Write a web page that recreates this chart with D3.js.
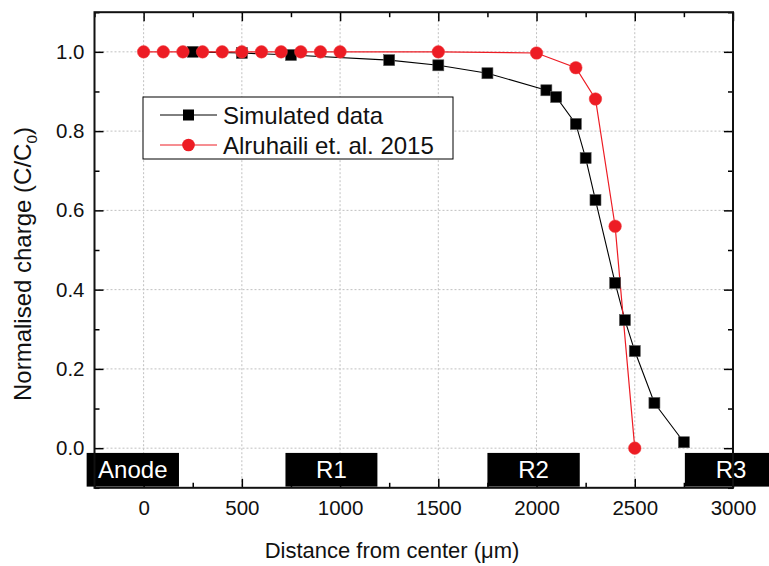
<!DOCTYPE html>
<html>
<head>
<meta charset="utf-8">
<script src="https://cdn.jsdelivr.net/npm/d3@7/dist/d3.min.js"></script>
<style>
  html, body { margin: 0; padding: 0; background: #fff; }
  svg { display: block; font-family: "Liberation Sans", Arial, sans-serif; }
</style>
</head>
<body>
<svg id="chart" width="769" height="566"></svg>
<script>
// ---- data ----
const simX = [250, 500, 750, 1250, 1500, 1750, 2050, 2100, 2200, 2250, 2300, 2400, 2450, 2500, 2600, 2750];
const simY = [1.0, 0.997, 0.992, 0.979, 0.966, 0.946, 0.903, 0.886, 0.818, 0.732, 0.626, 0.417, 0.323, 0.245, 0.114, 0.015];
const refX = [0, 100, 200, 300, 400, 500, 600, 700, 800, 900, 1000, 1500, 2000, 2200, 2300, 2400, 2500];
const refY = [1.0, 1.0, 1.0, 1.0, 1.0, 1.0, 1.0, 1.0, 1.0, 1.0, 1.0, 1.0, 0.997, 0.96, 0.881, 0.56, 0.0];
const seriesNames = ["Simulated data", "Alruhaili et. al. 2015"];
const regionNames = ["Anode", "R1", "R2", "R3"];
const regionStart = [-290, 722, 1750, 2755];
const regionEnd = [180, 1190, 2220, 3225];
const xTicks = [0, 500, 1000, 1500, 2000, 2500, 3000];
const yTicks = [0.0, 0.2, 0.4, 0.6, 0.8, 1.0];

// ---- layout ----
const svg = d3.select("#chart");
const L = 94.5, R = 733, T = 12.2, B = 487.8;
const x = d3.scaleLinear().domain([-250, 3000]).range([L, R]);
const y = d3.scaleLinear().domain([-0.1, 1.1]).range([B, T]);
const red = "#ed1c24";
const font = "Liberation Sans, Arial, sans-serif";

// grid
const grid = svg.append("g");
grid.selectAll("line.vx").data(xTicks).join("line")
  .attr("x1", d => x(d)).attr("x2", d => x(d)).attr("y1", T).attr("y2", B)
  .attr("stroke", "#c0c0c0").attr("stroke-width", 1).attr("stroke-dasharray", "2,2");
grid.selectAll("line.hy").data(yTicks).join("line")
  .attr("x1", L).attr("x2", R).attr("y1", d => y(d)).attr("y2", d => y(d))
  .attr("stroke", "#c0c0c0").attr("stroke-width", 1).attr("stroke-dasharray", "2,2");

// axes with inward ticks
const xMinor = d3.range(-250, 3001, 250).filter(v => !xTicks.includes(v));
const yMinor = d3.range(-0.1, 1.11, 0.1).map(v => +v.toFixed(2)).filter(v => !yTicks.some(t => Math.abs(t - v) < 1e-6));

function axisGroup(axisFn, scale, ticks, size, transform) {
  const g = svg.append("g").attr("transform", transform)
    .call(axisFn(scale).tickValues(ticks).tickSize(size).tickFormat(""));
  g.select(".domain").remove();
  g.selectAll(".tick line").attr("stroke", "#000").attr("stroke-width", 1.5);
  return g;
}
axisGroup(d3.axisTop, x, xTicks, 9, `translate(0,${B})`);
axisGroup(d3.axisTop, x, xMinor, 5, `translate(0,${B})`);
axisGroup(d3.axisBottom, x, xTicks, 9, `translate(0,${T})`);
axisGroup(d3.axisBottom, x, xMinor, 5, `translate(0,${T})`);
axisGroup(d3.axisRight, y, yTicks, 9, `translate(${L},0)`);
axisGroup(d3.axisRight, y, yMinor, 5, `translate(${L},0)`);
axisGroup(d3.axisLeft, y, yTicks, 9, `translate(${R},0)`);
axisGroup(d3.axisLeft, y, yMinor, 5, `translate(${R},0)`);

// tick labels
const xl = svg.append("g").attr("transform", `translate(0,${B})`)
  .call(d3.axisBottom(x).tickValues(xTicks).tickSize(0).tickPadding(13).tickFormat(d3.format("d")));
xl.select(".domain").remove();
xl.selectAll("text").attr("font-size", 20.5).attr("fill", "#111").attr("font-family", font);
const yl = svg.append("g").attr("transform", `translate(${L},0)`)
  .call(d3.axisLeft(y).tickValues(yTicks).tickSize(0).tickPadding(10).tickFormat(d3.format(".1f")));
yl.select(".domain").remove();
yl.selectAll("text").attr("font-size", 20.5).attr("fill", "#111").attr("font-family", font);

// lines
const lineGen = d3.line().x(d => x(d[0])).y(d => y(d[1]));
const simData = simX.map((v, i) => [v, simY[i]]);
const refData = refX.map((v, i) => [v, refY[i]]);
svg.append("path").datum(simData).attr("d", lineGen).attr("fill", "none").attr("stroke", "#000").attr("stroke-width", 1.1);
svg.append("path").datum(refData).attr("d", lineGen).attr("fill", "none").attr("stroke", red).attr("stroke-width", 1.2);

// markers
const sq = 11;
svg.append("g").selectAll("rect").data(simData).join("rect")
  .attr("x", d => x(d[0]) - sq / 2).attr("y", d => y(d[1]) - sq / 2)
  .attr("width", sq).attr("height", sq).attr("fill", "#000").attr("stroke", "#555").attr("stroke-width", 0.6);
svg.append("g").selectAll("circle").data(refData).join("circle")
  .attr("cx", d => x(d[0])).attr("cy", d => y(d[1])).attr("r", 6.3)
  .attr("fill", red).attr("stroke", "#e44").attr("stroke-width", 0.5);

// region labels (black boxes)
const rg = svg.append("g");
regionNames.forEach((name, i) => {
  const x0 = x(regionStart[i]), x1 = x(regionEnd[i]);
  const yt = y(-0.012), yb = y(-0.097);
  rg.append("rect").attr("x", x0).attr("y", yt).attr("width", x1 - x0).attr("height", yb - yt).attr("fill", "#000");
  rg.append("text").attr("x", (x0 + x1) / 2).attr("y", (yt + yb) / 2 + 8.5)
    .attr("text-anchor", "middle").attr("fill", "#fff").attr("font-size", 24).text(name);
});

// frame
svg.append("rect").attr("x", L).attr("y", T).attr("width", R - L).attr("height", B - T)
  .attr("fill", "none").attr("stroke", "#111").attr("stroke-width", 2);

// legend
const lg = svg.append("g");
const lx = 143, ly = 97, lw = 310, lh = 62;
lg.append("rect").attr("x", lx).attr("y", ly).attr("width", lw).attr("height", lh)
  .attr("fill", "#fff").attr("stroke", "#000").attr("stroke-width", 1);
seriesNames.forEach((name, i) => {
  const cy = ly + 18 + i * 30;
  lg.append("line").attr("x1", lx + 17).attr("x2", lx + 74).attr("y1", cy).attr("y2", cy)
    .attr("stroke", i === 0 ? "#000" : red).attr("stroke-width", 1);
  if (i === 0) {
    lg.append("rect").attr("x", lx + 45.5 - 5.5).attr("y", cy - 5.5).attr("width", 11).attr("height", 11).attr("fill", "#000");
  } else {
    lg.append("circle").attr("cx", lx + 45.5).attr("cy", cy).attr("r", 6.3).attr("fill", red);
  }
  lg.append("text").attr("x", lx + 80).attr("y", cy + 8.5).attr("font-size", 24).attr("fill", "#111").text(name);
});

// axis titles
svg.append("text").attr("x", 392).attr("y", 558).attr("text-anchor", "middle")
  .attr("font-size", 22).attr("fill", "#111").text("Distance from center (μm)");
const ytl = svg.append("text").attr("transform", `translate(31,${264}) rotate(-90)`)
  .attr("text-anchor", "middle").attr("font-size", 24).attr("fill", "#111");
ytl.append("tspan").text("Normalised charge (C/C");
ytl.append("tspan").attr("font-size", 15.5).attr("dy", 6).text("0");
ytl.append("tspan").attr("dy", -6).text(")");
</script>
</body>
</html>
